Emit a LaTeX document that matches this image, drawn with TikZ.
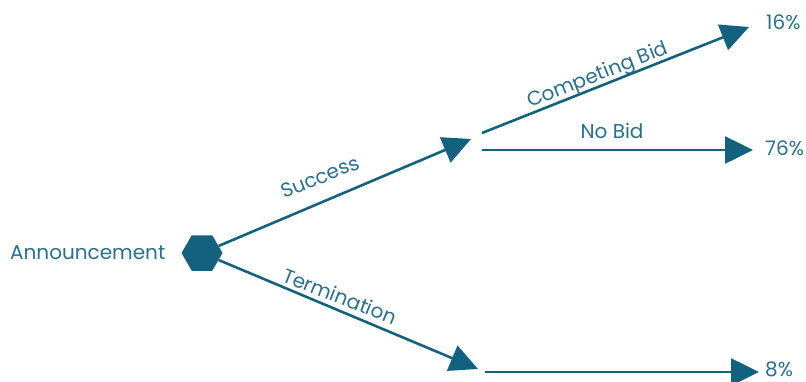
\documentclass[tikz,border=0pt]{standalone}
\usepackage{fontspec}
\setmainfont{Poppins}
\usetikzlibrary{arrows.meta,shapes.geometric}
\definecolor{teal1}{HTML}{12627F}
\definecolor{tealtext}{HTML}{2A6F8C}
\tikzset{
  lbl/.style={text=tealtext,font=\fontsize{20}{23}\selectfont,inner sep=0pt},
  branch/.style={draw=teal1,line width=2.6pt,-{Triangle[length=28pt,width=27pt]}},
}
\begin{document}
\begin{tikzpicture}[x=1pt,y=-1pt]
\useasboundingbox (0,0) rectangle (806,381);
\node[lbl,anchor=west] (ann) at (10,253) {Announcement};
\node[regular polygon,regular polygon sides=6,fill=teal1,minimum size=41pt,inner sep=0pt] (hex) at (202,253) {};
\coordinate (s1) at (471,139);
\coordinate (t1) at (478,369);
\coordinate (cbs) at (482,133);
\coordinate (cbe) at (749,27);
\coordinate (nbs) at (482,150);
\coordinate (nbe) at (753,150);
\coordinate (bts) at (485,372);
\coordinate (bte) at (759,372);
\draw[branch] (hex) -- (s1);
\draw[branch] (hex) -- (t1);
\draw[branch] (cbs) -- (cbe);
\draw[branch] (nbs) -- (nbe);
\draw[branch] (bts) -- (bte);
\node[lbl,rotate=21.8] (succ) at (320,177) {Success};
\node[lbl,rotate=-21.4] (term) at (340,296) {Termination};
\node[lbl,rotate=21.5] (comp) at (598,76) {Competing Bid};
\node[lbl] (nobid) at (612,131) {No Bid};
\node[lbl,anchor=west] (p16) at (766,22) {16\%};
\node[lbl,anchor=west] (p76) at (765,148) {76\%};
\node[lbl,anchor=west] (p8) at (765,369) {8\%};
\end{tikzpicture}
\end{document}
